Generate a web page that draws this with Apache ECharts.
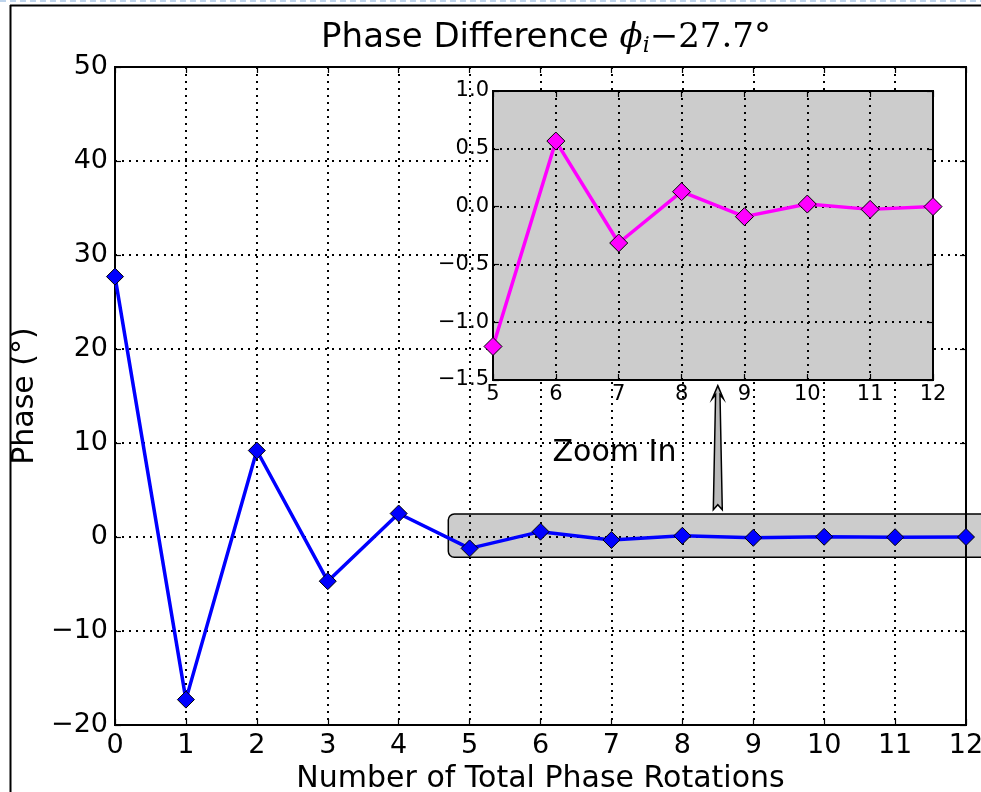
<!DOCTYPE html>
<html>
<head>
<meta charset="utf-8">
<script src="https://cdn.jsdelivr.net/npm/echarts@6/dist/echarts.min.js"></script>
<style>
  html, body { margin: 0; padding: 0; background: #fff; }
  #chart { width: 981px; height: 792px; }
</style>
</head>
<body>
<div id="chart"></div>
<script>
// Phase rotation steps and the remaining phase error after each step (degrees)
const steps = [0, 1, 2, 3, 4, 5, 6, 7, 8, 9, 10, 11, 12];
const phase = [27.7, -17.3, 9.2, -4.7, 2.5, -1.21, 0.567, -0.315, 0.129, -0.087, 0.022, -0.024, 0.0];

// Detail view covering the tail of the sequence
const zoomSteps = [5, 6, 7, 8, 9, 10, 11, 12];
const zoomPhase = [-1.21, 0.567, -0.315, 0.129, -0.087, 0.022, -0.024, 0.0];

// Axis ranges and tick spacing
const mainX = { min: 0, max: 12, step: 1 };
const mainY = { min: -20, max: 50, step: 10 };
const zoomX = { min: 5, max: 12, step: 1 };
const zoomY = { min: -1.5, max: 1.0, step: 0.5 };

const FONT = 'DejaVu Sans';
const minus = v => String(v).replace('-', '\u2212');

const dotted = { color: '#000', width: 2, type: [2, 5] };

const chart = echarts.init(document.getElementById('chart'), null, { renderer: 'canvas' });

function valueAxis(range, extra) {
  return Object.assign({
    type: 'value',
    min: range.min,
    max: range.max,
    interval: range.step,
    axisLine: { show: true, onZero: false, lineStyle: { color: '#000', width: 2 } },
    axisTick: { show: true, inside: true, length: 6, lineStyle: { color: '#000', width: 1.2 } },
    splitLine: { show: false }
  }, extra);
}

const option = {
  animation: false,
  backgroundColor: '#fff',
  title: {
    text: 'Phase Difference {phi|\u03D5}{sub|i}{num|\u221227.7\u00B0}',
    left: 541,
    textAlign: 'center',
    top: 14,
    textStyle: {
      fontFamily: FONT,
      fontSize: 34,
      fontWeight: 'normal',
      color: '#000',
      rich: {
        phi: { fontFamily: 'DejaVu Serif', fontStyle: 'italic', fontSize: 34, color: '#000' },
        sub: { fontFamily: 'DejaVu Serif', fontStyle: 'italic', fontSize: 22, color: '#000', padding: [16, 0, 0, 0] },
        num: { fontFamily: 'DejaVu Serif', fontSize: 34, color: '#000' }
      }
    }
  },
  grid: [
    { left: 115, right: 15, top: 67, bottom: 67, outerBoundsMode: 'none', containLabel: false,
      show: true, borderColor: '#000', borderWidth: 2, backgroundColor: 'transparent', z: 1 },
    { left: 493, right: 48, top: 91, bottom: 412, outerBoundsMode: 'none', containLabel: false,
      show: true, borderColor: '#000', borderWidth: 2, backgroundColor: '#cccccc', z: 10 }
  ],
  xAxis: [
    valueAxis(mainX, {
      gridIndex: 0, position: 'bottom', z: 1,
      name: 'Number of Total Phase Rotations',
      nameLocation: 'middle', nameGap: 30,
      nameTextStyle: { fontFamily: FONT, fontSize: 30, color: '#000' },
      axisLabel: { fontFamily: FONT, fontSize: 27, color: '#000', margin: 7, formatter: minus },
      splitLine: { show: true, lineStyle: dotted }
    }),
    valueAxis(mainX, { gridIndex: 0, position: 'top', z: 1, axisLabel: { show: false } }),
    valueAxis(zoomX, {
      gridIndex: 1, position: 'bottom', z: 11,
      axisLabel: { fontFamily: FONT, fontSize: 21, color: '#000', margin: 4, formatter: minus },
      splitLine: { show: true, lineStyle: dotted }
    }),
    valueAxis(zoomX, { gridIndex: 1, position: 'top', z: 11, axisLabel: { show: false } })
  ],
  yAxis: [
    valueAxis(mainY, {
      gridIndex: 0, position: 'left', z: 1,
      name: 'Phase (\u00B0)',
      nameLocation: 'middle', nameGap: 66,
      nameTextStyle: { fontFamily: FONT, fontSize: 30, color: '#000' },
      axisLabel: { fontFamily: FONT, fontSize: 27, color: '#000', margin: 7, formatter: minus },
      splitLine: { show: true, lineStyle: dotted }
    }),
    valueAxis(mainY, { gridIndex: 0, position: 'right', z: 1, axisLabel: { show: false } }),
    valueAxis(zoomY, {
      gridIndex: 1, position: 'left', z: 11,
      axisLabel: { fontFamily: FONT, fontSize: 21, color: '#000', margin: 4, formatter: v => minus(v.toFixed(1)) },
      splitLine: { show: true, lineStyle: dotted }
    }),
    valueAxis(zoomY, { gridIndex: 1, position: 'right', z: 11, axisLabel: { show: false } })
  ],
  series: [
    {
      type: 'line',
      xAxisIndex: 0, yAxisIndex: 0,
      data: steps.map((s, i) => [s, phase[i]]),
      clip: true,
      z: 3,
      lineStyle: { color: '#0000ff', width: 3.5 },
      symbol: 'diamond',
      symbolSize: 17,
      showAllSymbol: true,
      itemStyle: { color: '#0000ff', borderColor: '#000', borderWidth: 1 }
    },
    {
      type: 'line',
      xAxisIndex: 2, yAxisIndex: 2,
      data: zoomSteps.map((s, i) => [s, zoomPhase[i]]),
      clip: true,
      z: 12,
      lineStyle: { color: '#ff00ff', width: 3.5 },
      symbol: 'diamond',
      symbolSize: 18,
      showAllSymbol: true,
      itemStyle: { color: '#ff00ff', borderColor: '#000', borderWidth: 1 }
    }
  ]
};

chart.setOption(option);

// Annotations placed in data coordinates of the main axes
const px = (x, y) => chart.convertToPixel({ gridIndex: 0 }, [x, y]);

const boxTL = px(4.7, 2.45);
const boxBR = px(12.5, -2.15);
const arrowBase = px(8.5, 2.9);
const arrowTip = px(8.5, 16.1);
const labelPos = px(6.17, 8.9);

const ax = arrowBase[0];
const tipY = arrowTip[1];
const baseY = arrowBase[1];
const arrowPts = [
  [ax, tipY],
  [ax + 5.5, tipY + 13],
  [ax + 2.2, tipY + 9],
  [ax + 4.5, baseY],
  [ax, baseY - 5],
  [ax - 4.5, baseY],
  [ax - 2.2, tipY + 9],
  [ax - 5.5, tipY + 13]
];

chart.setOption({
  graphic: [
    {
      type: 'rect', z: 0,
      shape: { x: boxTL[0], y: boxTL[1], width: boxBR[0] - boxTL[0], height: boxBR[1] - boxTL[1], r: 6 },
      style: { fill: '#cccccc', stroke: '#000', lineWidth: 1.5 }
    },
    {
      type: 'polygon', z: 5,
      shape: { points: arrowPts },
      style: { fill: '#bbbbbb', stroke: '#000', lineWidth: 1.5 }
    },
    {
      type: 'text', z: 5,
      x: labelPos[0], y: labelPos[1],
      style: { text: 'Zoom In', font: '30px "DejaVu Sans"', fill: '#000', textVerticalAlign: 'middle', textAlign: 'left' }
    },
    // figure frame
    { type: 'line', z: 20, shape: { x1: 10.5, y1: 5, x2: 10.5, y2: 792 }, style: { stroke: '#000', lineWidth: 2 } },
    { type: 'line', z: 20, shape: { x1: 10, y1: 5.5, x2: 981, y2: 5.5 }, style: { stroke: '#000', lineWidth: 2 } },
    { type: 'line', z: 20, shape: { x1: 0, y1: 1, x2: 981, y2: 1 }, style: { stroke: '#a9c6e6', lineWidth: 1.5, lineDash: [6, 4] } }
  ]
});
</script>
</body>
</html>
